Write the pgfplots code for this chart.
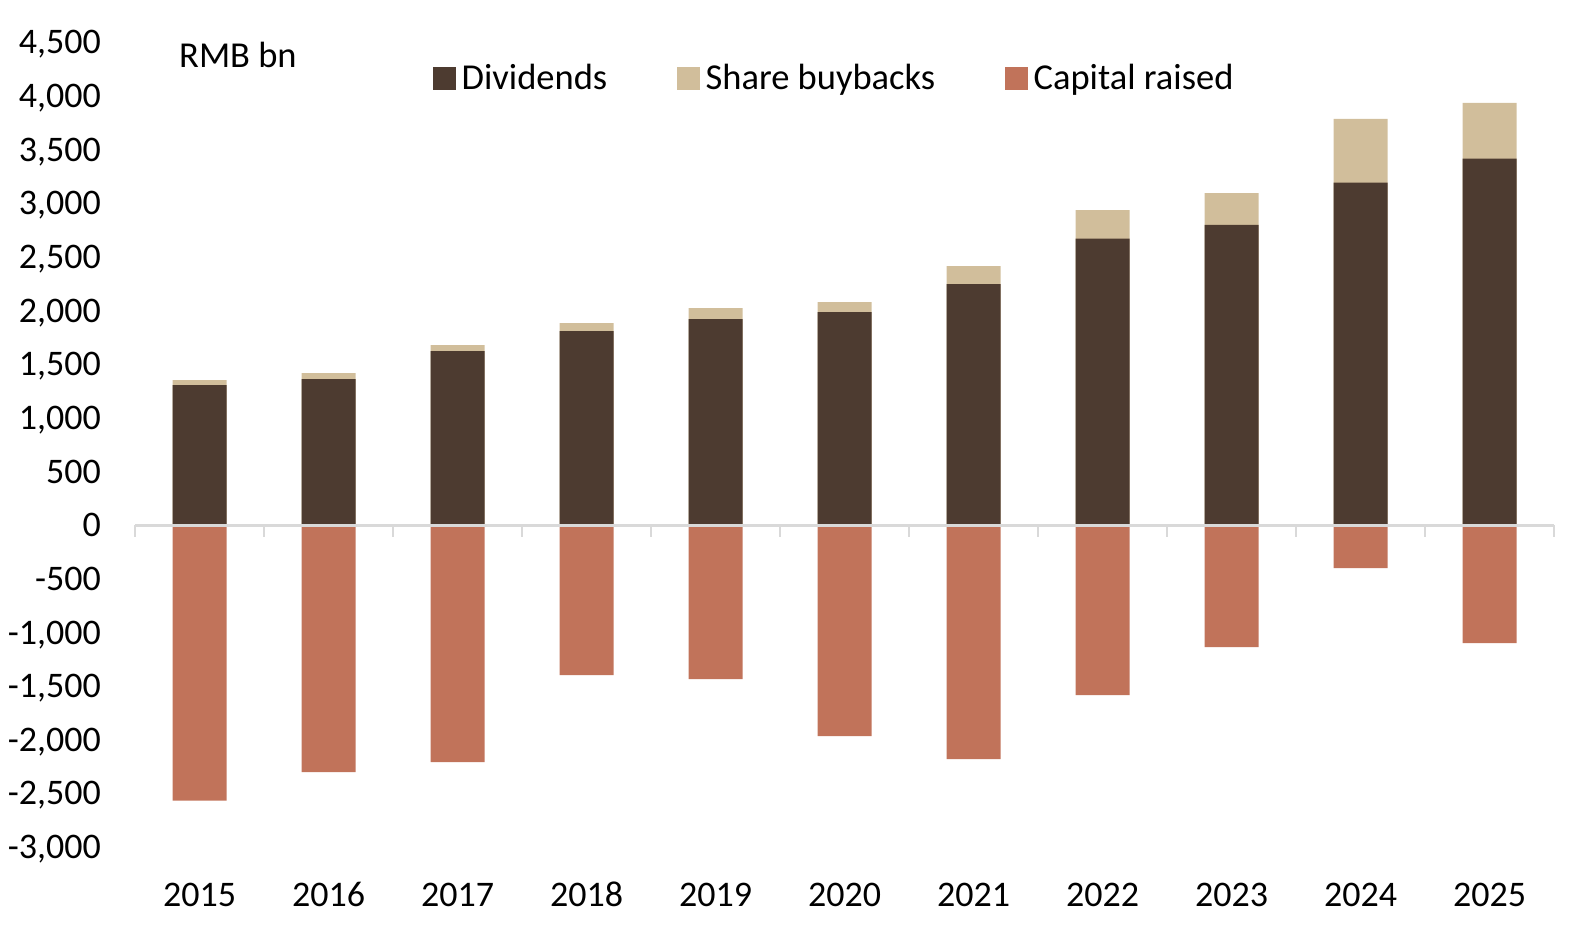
\documentclass[border=0pt]{standalone}
\usepackage{fontspec}
\setmainfont{Carlito}
\usepackage{pgfplots}
\usepackage{pgfplotstable}
\pgfplotsset{compat=1.18}
\definecolor{divc}{HTML}{4D3B30}
\definecolor{bbc}{HTML}{D1BE9B}
\definecolor{capc}{HTML}{C1735A}
\definecolor{zl}{HTML}{D9D9D9}
\pgfplotstableread{
x div bb cap
0 1306 47 -2565
1 1362 56 -2301
2 1623 56 -2208
3 1810 75 -1396
4 1922 103 -1434
5 1987 93 -1965
6 2248 168 -2180
7 2671 267 -1583
8 2801 296 -1135
9 3193 594 -398
10 3417 520 -1098
}\data
\begin{document}
\begin{tikzpicture}
\path[use as bounding box] (0,0) rectangle (1569pt,931pt);
\begin{axis}[
  at={(135pt,83.8pt)}, anchor=south west,
  scale only axis, width=1419pt, height=804.7pt,
  xmin=-0.5, xmax=10.5, ymin=-3000, ymax=4500,
  ybar, bar width=54pt,
  axis line style={draw=none},
  xtick={0,1,2,3,4,5,6,7,8,9,10},
  xticklabels={2015,2016,2017,2018,2019,2020,2021,2022,2023,2024,2025},
  ytick={-3000,-2500,-2000,-1500,-1000,-500,0,500,1000,1500,2000,2500,3000,3500,4000,4500},
  major tick length=0pt,
  tick style={draw=none},
  ticklabel style={font=\fontsize{36}{43}\selectfont},
  /pgf/number format/assume math mode=true,
  /pgf/number format/1000 sep={,},
  yticklabel style={anchor=base east, inner sep=0pt, xshift=-34pt, yshift=-11.4pt},
  xticklabel style={anchor=base, inner sep=0pt, yshift=-59.5pt},
  legend columns=3,
  legend cell align=left,
  legend style={at={(0.21,0.956)}, anchor=west, draw=none, fill=none, inner sep=0pt,
    font=\fontsize{36.5}{43}\selectfont, nodes={inner sep=0pt},
    /tikz/every odd column/.append style={column sep=6pt},
    /tikz/every even column/.append style={column sep=70pt}},
  clip=false,
]
\addplot[ybar, bar shift=0pt, fill=bbc, draw=none, forget plot]
  table[x=x, y expr=\thisrow{div}+\thisrow{bb}] {\data};
\addplot[ybar, bar shift=0pt, fill=divc, draw=none, forget plot]
  table[x=x, y=div] {\data};
\addplot[ybar, bar shift=0pt, fill=capc, draw=none, forget plot]
  table[x=x, y=cap] {\data};
\addlegendimage{legend image code/.code={\fill[divc] (0pt,-11pt) rectangle (22pt,11pt);}}
\addlegendentry{Dividends}
\addlegendimage{legend image code/.code={\fill[bbc] (0pt,-11pt) rectangle (22pt,11pt);}}
\addlegendentry{Share buybacks}
\addlegendimage{legend image code/.code={\fill[capc] (0pt,-11pt) rectangle (22pt,11pt);}}
\addlegendentry{Capital raised}
\draw[zl, line width=2.7pt] (axis cs:-0.5,0) -- (axis cs:10.5,0);
\pgfplotsinvokeforeach{-0.5,0.5,1.5,2.5,3.5,4.5,5.5,6.5,7.5,8.5,9.5,10.5}{
  \draw[zl, line width=2.7pt] (axis cs:#1,0) -- (axis cs:#1,-112);
}
\node[anchor=base west, font=\fontsize{36.5}{43}\selectfont, inner sep=0pt] at (axis description cs:0.031,0.9683) {RMB bn};
\end{axis}
\end{tikzpicture}
\end{document}
